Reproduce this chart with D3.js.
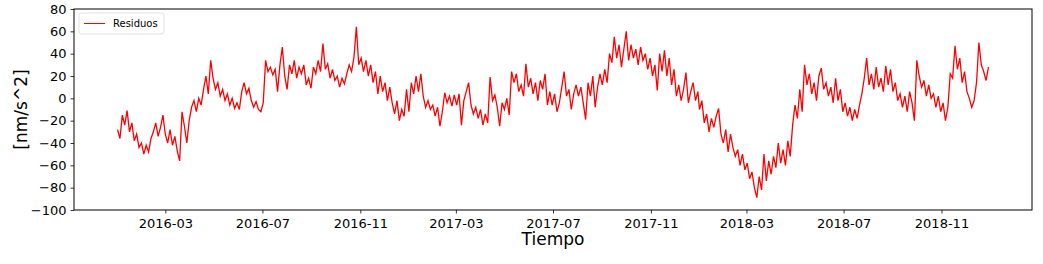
<!DOCTYPE html>
<html lang="es">
  <head>
    <meta charset="utf-8" />
    <style>
      body { margin: 0; background: #fff; }
      svg text { font-family: "DejaVu Sans", sans-serif; fill: #000; }
    </style>
  </head>
  <body>
    <script src="https://d3js.org/d3.v7.min.js"></script>
    <script>
      var width = 1043,
        height = 264;
      var margin = { top: 9, right: 11, bottom: 54, left: 74 };

      // residuos, un valor cada 3 dias desde el 1 de enero de cada año
      var stepDays = 3;
      var res2016 = [
        -28, -36, -15, -24, -11, -30, -22, -38, -32, -44,
        -40, -50, -42, -48, -36, -30, -22, -34, -26, -15,
        -32, -40, -28, -42, -34, -47, -56, -12, -25, -40,
        -20, -8, -2, -12, 0, -6, 8, 20, 4, 34,
        18, 8, 14, 2, 8, -2, 4, -6, 0, -9,
        -4, -10, 6, 14, 4, 9, -2, -8, -3, -10,
        -12, -4, 34, 24, 28, 21, 26, 6, 30, 46,
        20, 8, 30, 22, 34, 18, 28, 22, 30, 12,
        18, 9, 28, 22, 34, 24, 49, 26, 31, 18,
        26, 16, 20, 10, 18, 13, 22, 30, 24, 37,
        64, 30, 36, 24, 34, 20, 30, 14, 24, 4,
        20, 6, 14, -2, 10, -4, -14, -2, -20, -10, -16, 8
      ];
      var res2017 = [
        -12, 14, 4, 20, 6, 22, 2, -8, -2, -10,
        -6, -16, -8, -25, -12, 5, -4, 2, -7, 3,
        -6, 4, -24, -2, 6, 14, -6, -14, -8, -18,
        -10, -24, -14, -22, 19, -2, 3, -8, -25, -4,
        -10, 0, -15, 24, 14, 22, 6, 12, 2, 31,
        10, 18, 4, 14, -2, 16, 8, 22, -6, 6,
        -6, 4, -12, -4, 10, 24, 2, 8, -10, 4,
        12, 2, 10, -4, -19, 14, 2, 20, -8, 10,
        22, 12, 26, 14, 40, 32, 55, 36, 48, 28,
        44, 60, 34, 48, 36, 44, 30, 46, 34, 40,
        26, 36, 20, 30, 7, 40, 24, 43, 20, 36,
        12, 26, 2, 12, -2, 8, 23, -4, 6, 14, -2, 6
      ];
      var res2018 = [
        -10, -2, -22, -14, -30, -18, -26, -16, -9, -32,
        -40, -28, -48, -32, -44, -52, -46, -60, -50, -64,
        -58, -72, -66, -80, -89, -70, -82, -50, -74, -56,
        -68, -52, -62, -40, -58, -46, -60, -38, -52, -24,
        -6, -18, 8, -12, 30, 12, 22, 4, 14, -2,
        20, 27, 8, 14, 2, 10, -4, 18, -2, 8,
        -12, -4, -16, -8, -20, -10, -18, -6, 4, 18,
        36, 12, 22, 8, 28, 10, 18, 6, 29, 12,
        26, 6, 14, -2, 4, -8, 2, -12, 6, -4,
        -20, 34, 20, 10, 16, 2, 12, 0, 4, -8,
        2, -12, -4, -20, -8, 22, 18, 47, 26, 36,
        14, 24, 6, 0, -8, -2, 14, 50, 30, 24, 16, 28
      ];
      var yearStarts = ["2016-01-01", "2017-01-01", "2018-01-01"];
      var xTickLabels = [
        "2016-03", "2016-07", "2016-11", "2017-03", "2017-07",
        "2017-11", "2018-03", "2018-07", "2018-11"
      ];
      var yTicks = [-100, -80, -60, -40, -20, 0, 20, 40, 60, 80];

      var parse = d3.utcParse("%Y-%m-%d");
      var data = [];
      [res2016, res2017, res2018].forEach(function (arr, k) {
        var start = parse(yearStarts[k]);
        arr.forEach(function (v, j) {
          data.push({ date: d3.utcDay.offset(start, j * stepDays), value: v });
        });
      });

      var first = data[0].date,
        last = data[data.length - 1].date;
      var pad = (last - first) * 0.05;

      var svg = d3
        .select("body")
        .append("svg")
        .attr("width", width)
        .attr("height", height);

      var x = d3
        .scaleUtc()
        .domain([new Date(+first - pad), new Date(+last + pad)])
        .range([margin.left, width - margin.right]);
      var y = d3
        .scaleLinear()
        .domain([-100, 80])
        .range([height - margin.bottom, margin.top]);

      var xTicks = xTickLabels.map(function (s) {
        return parse(s + "-01");
      });

      // ejes
      var xAxis = svg
        .append("g")
        .attr("transform", "translate(0," + (height - margin.bottom) + ")")
        .call(
          d3
            .axisBottom(x)
            .tickValues(xTicks)
            .tickFormat(d3.utcFormat("%Y-%m"))
            .tickSize(3.5)
            .tickPadding(5)
        );
      var yAxis = svg
        .append("g")
        .attr("transform", "translate(" + margin.left + ",0)")
        .call(d3.axisLeft(y).tickValues(yTicks).tickSize(3.5).tickPadding(4));
      [xAxis, yAxis].forEach(function (g) {
        g.select(".domain").remove();
        g.selectAll("text")
          .style("font-family", "DejaVu Sans")
          .style("font-size", "13px")
          .attr("fill", "#000");
        g.selectAll("line").attr("stroke", "#000").attr("stroke-width", 0.8);
      });

      // linea
      var line = d3
        .line()
        .x(function (d) { return x(d.date); })
        .y(function (d) { return y(d.value); });
      svg
        .append("path")
        .datum(data)
        .attr("fill", "none")
        .attr("stroke", "#ff0000")
        .attr("stroke-width", 1.3)
        .attr("stroke-linejoin", "miter")
        .attr("d", line);

      // marco
      svg
        .append("rect")
        .attr("x", margin.left)
        .attr("y", margin.top)
        .attr("width", width - margin.left - margin.right)
        .attr("height", height - margin.top - margin.bottom)
        .attr("fill", "none")
        .attr("stroke", "#000")
        .attr("stroke-width", 1);

      // etiquetas
      svg
        .append("text")
        .attr("x", (margin.left + width - margin.right) / 2)
        .attr("y", 245)
        .attr("text-anchor", "middle")
        .style("font-size", "17px")
        .text("Tiempo");
      svg
        .append("text")
        .attr(
          "transform",
          "translate(27," + (margin.top + height - margin.bottom) / 2 + ") rotate(-90)"
        )
        .attr("text-anchor", "middle")
        .style("font-size", "17px")
        .text("[nm/s^2]");

      // leyenda
      var lg = svg.append("g").attr("transform", "translate(79,13)");
      lg.append("rect")
        .attr("width", 85)
        .attr("height", 21)
        .attr("rx", 2.5)
        .attr("fill", "#fff")
        .attr("stroke", "#d9d9d9")
        .attr("stroke-width", 0.8);
      lg.append("line")
        .attr("x1", 5)
        .attr("x2", 26)
        .attr("y1", 10.5)
        .attr("y2", 10.5)
        .attr("stroke", "#ff0000")
        .attr("stroke-width", 1);
      lg.append("text")
        .attr("x", 34)
        .attr("y", 14)
        .style("font-size", "10px")
        .text("Residuos");
    </script>
  </body>
</html>
